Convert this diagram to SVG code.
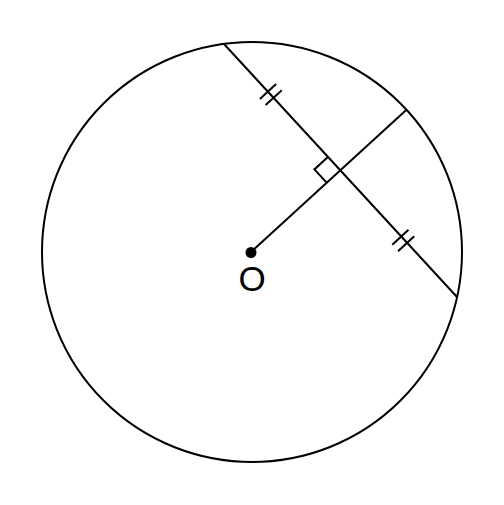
<svg xmlns="http://www.w3.org/2000/svg" width="504" height="505" viewBox="0 0 504 505">
<style>
.s{fill:none;stroke:#000;stroke-width:2;stroke-linecap:butt}
.t{font-family:"Liberation Sans",Arial,sans-serif;font-size:35px;fill:#000}
</style>
<rect width="504" height="505" fill="#fff"/>
<g id="circle"><circle class="s" cx="252" cy="252" r="210"/></g>
<g id="connectors">
<line class="s" x1="224" y1="44" x2="457" y2="297"/>
<line class="s" x1="251" y1="252" x2="406.5" y2="109.7"/>
<polyline class="s" points="327.9,156.9 314.4,169.4 326.9,182.9"/>
<line class="s" x1="259.9" y1="99.0" x2="276.1" y2="84.1"/>
<line class="s" x1="265.6" y1="105.1" x2="281.8" y2="90.2"/>
<line class="s" x1="392.3" y1="244.7" x2="408.5" y2="229.8"/>
<line class="s" x1="398.0" y1="251.2" x2="414.2" y2="236.3"/>
</g>
<g id="O">
<circle cx="251" cy="252.5" r="5.5" fill="#000"/>
<text class="t" x="252" y="290.5" text-anchor="middle">O</text>
</g>
</svg>
